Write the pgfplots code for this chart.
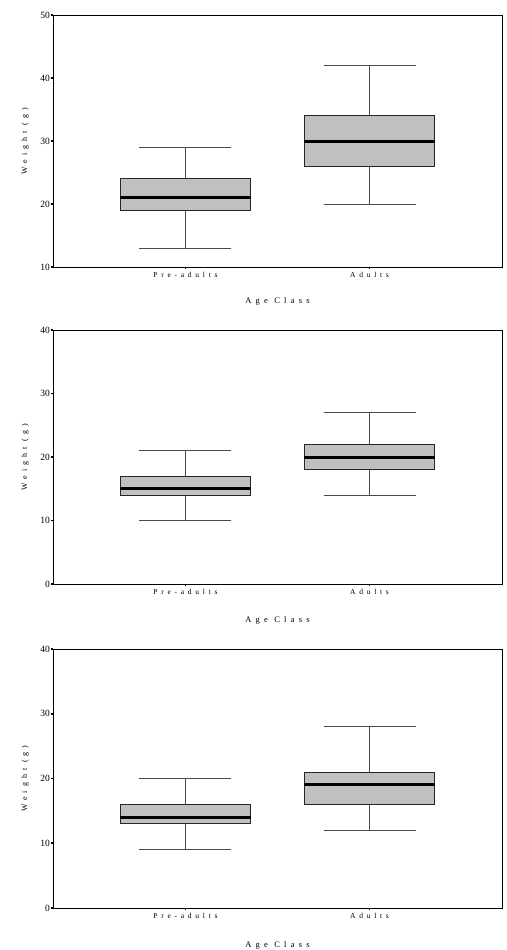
\documentclass[border=0pt]{standalone}
\usepackage{fontspec}
\setmainfont{Liberation Serif}
\newfontfamily\spaced[LetterSpace=50]{Liberation Serif}
\usepackage{pgfplots}
\pgfplotsset{compat=1.18}
\usepgfplotslibrary{statistics}
\definecolor{boxgray}{HTML}{C0C0C0}
\pgfplotsset{
  myax/.style={
    scale only axis, width=449pt, anchor=south west,
    xmin=0.28, xmax=2.72,
    xtick={1,2}, xticklabels={Pre-adults,Adults},
    xticklabel style={font=\spaced\fontsize{7.5}{8}\selectfont, inner sep=1pt, yshift=-2pt},
    yticklabel style={font=\fontsize{9.5}{10}\selectfont, inner sep=1pt},
    /pgf/number format/assume math mode=true,
    tick align=outside, major tick length=2pt,
    tick style={black, line width=1.6pt},
    xtick pos=bottom, ytick pos=left,
    axis line style={black, line width=0.8pt},
    ylabel={Weight (g)},
    ylabel style={font=\spaced\fontsize{8}{9}\selectfont, at={(axis description cs:-0.062,0.5)}, anchor=center},
    xlabel={Age Class},
    boxplot/draw direction=y,
    clip=false,
  },
  mybox/.style={draw=black!85, fill=boxgray, line width=0.9pt,
    boxplot/box extend=0.71, boxplot/whisker extend=0.5,
    boxplot/every median/.style={black, line width=3pt},
    boxplot/every whisker/.style={black!70, line width=0.8pt}},
}
\begin{document}
\begin{tikzpicture}[x=1pt,y=1pt]
\useasboundingbox (0,0) rectangle (506,-950);
\begin{axis}[myax, at={(53pt,-267pt)}, height=252pt, ymin=10, ymax=50, ytick={10,20,30,40,50},
  xlabel style={font=\spaced\fontsize{8.5}{9}\selectfont, at={(axis description cs:0.5,-0.135)}, anchor=center}]
\addplot[mybox, boxplot prepared={draw position=1, lower whisker=13, lower quartile=19, median=21, upper quartile=24, upper whisker=29}] coordinates {};
\addplot[mybox, boxplot prepared={draw position=2, lower whisker=20, lower quartile=26, median=30, upper quartile=34, upper whisker=42}] coordinates {};
\end{axis}
\begin{axis}[myax, at={(53pt,-584pt)}, height=254pt, ymin=0, ymax=40, ytick={0,10,20,30,40},
  xlabel style={font=\spaced\fontsize{8.5}{9}\selectfont, at={(axis description cs:0.5,-0.142)}, anchor=center}]
\addplot[mybox, boxplot prepared={draw position=1, lower whisker=10, lower quartile=14, median=15, upper quartile=17, upper whisker=21}] coordinates {};
\addplot[mybox, boxplot prepared={draw position=2, lower whisker=14, lower quartile=18, median=20, upper quartile=22, upper whisker=27}] coordinates {};
\end{axis}
\begin{axis}[myax, at={(53pt,-908pt)}, height=259pt, ymin=0, ymax=40, ytick={0,10,20,30,40},
  xlabel style={font=\spaced\fontsize{8.5}{9}\selectfont, at={(axis description cs:0.5,-0.143)}, anchor=center}]
\addplot[mybox, boxplot prepared={draw position=1, lower whisker=9, lower quartile=13, median=14, upper quartile=16, upper whisker=20}] coordinates {};
\addplot[mybox, boxplot prepared={draw position=2, lower whisker=12, lower quartile=16, median=19, upper quartile=21, upper whisker=28}] coordinates {};
\end{axis}
\end{tikzpicture}
\end{document}
